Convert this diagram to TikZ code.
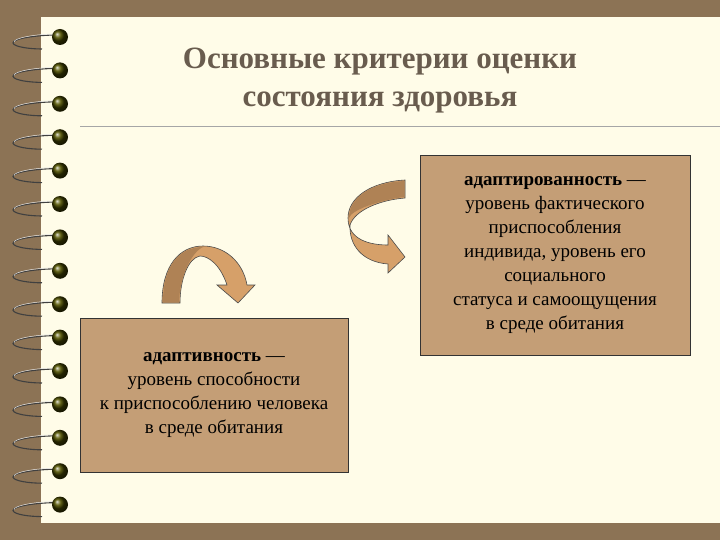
\documentclass[tikz,border=0pt]{standalone}
\usepackage{fontspec}
\setmainfont{Liberation Serif}
\definecolor{bgbrown}{RGB}{140,115,85}
\definecolor{paper}{RGB}{255,252,232}
\definecolor{boxfill}{RGB}{196,158,118}
\definecolor{arrowlight}{RGB}{214,160,105}
\definecolor{arrowdark}{RGB}{175,130,85}
\definecolor{titlecol}{RGB}{105,92,78}
\begin{document}
\begin{tikzpicture}[x=1pt,y=-1pt,
  infobox/.style={draw=black!80,line width=0.8pt,fill=boxfill,align=center,font=\fontsize{19}{24}\selectfont,inner sep=0pt},
  arrowshape/.style={draw=black!70,line width=0.6pt,fill=arrowlight}]
\useasboundingbox (0,0) rectangle (720,540);
\fill[bgbrown] (0,0) rectangle (720,540);
\fill[paper] (41,17) rectangle (720,523);
% spiral rings
\foreach \i in {0,...,14}{
  \pgfmathsetmacro{\yy}{37+\i*33.4}
  \draw[black!75,line width=1.1pt] (58,\yy-2) .. controls (35,\yy-2) and (12,\yy+2) .. (13,\yy+6) .. controls (14,\yy+10) and (30,\yy+12) .. (42,\yy+12);
  \draw[white!80!gray,line width=0.5pt] (56,\yy-3) .. controls (35,\yy-3) and (14,\yy+1) .. (14,\yy+5);
  \shade[ball color=black!60!olive] (60,\yy) circle (8);
}
% title
\node[titlecol,font=\fontsize{31}{38}\selectfont\bfseries,align=center] (title) at (380,81) {Основные критерии оценки\\состояния здоровья};
\coordinate (l1) at (80,126); \coordinate (l2) at (720,126);
\draw[gray!70,line width=0.6pt] (l1) -- (l2);
% boxes
\node[infobox,minimum width=270,minimum height=200] (b1) at (555,255) {\textbf{адаптированность} —\\уровень фактического\\приспособления\\индивида, уровень его\\социального\\статуса и самоощущения\\в среде обитания};
\node[infobox,minimum width=268,minimum height=154] (b2) at (214,395) {\textbf{адаптивность} —\\уровень способности\\к приспособлению человека\\в среде обитания};
% left arrow
\draw[arrowshape] (162,303) .. controls (162,265) and (180,246) .. (203,246) .. controls (225,246) and (243,262) .. (247,285) -- (255,285) -- (238,303) -- (217,285) -- (227,285) .. controls (220,264) and (208,256) .. (200,256) .. controls (188,258) and (180,280) .. (180,303) -- cycle;
\fill[arrowdark] (163,302) .. controls (163,265) and (180,247) .. (203,247) .. controls (192,252) and (180,275) .. (179,302) -- cycle;
% right arrow
\draw[arrowshape] (405,180) .. controls (370,182) and (348,198) .. (348,218) .. controls (348,240) and (370,245) .. (388,245) -- (388,235) -- (405,257) -- (388,273) -- (388,264) .. controls (362,262) and (349,245) .. (350,225) .. controls (355,210) and (380,200) .. (405,198) -- cycle;
\fill[arrowdark] (404,181) .. controls (370,183) and (349,198) .. (349,218) .. controls (351,210) and (380,200) .. (404,197) -- cycle;
\end{tikzpicture}
\end{document}
